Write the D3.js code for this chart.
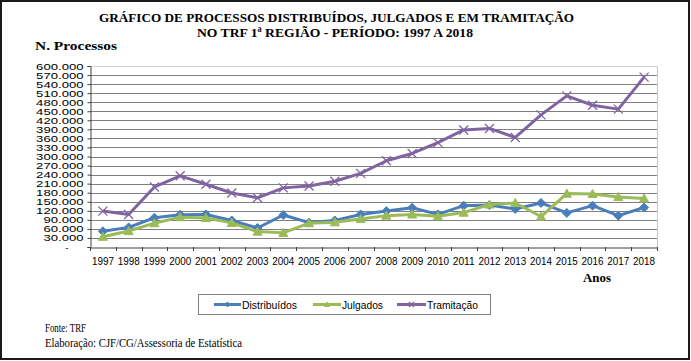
<!DOCTYPE html>
<html>
<head>
<meta charset="utf-8">
<script src="https://cdn.jsdelivr.net/npm/d3@7"></script>
<style>
  html, body { margin: 0; padding: 0; background: #fff; }
  svg { display: block; }
</style>
</head>
<body>
<svg id="chart" width="691" height="361"></svg>
<script>
// ---------------- DATA ----------------
const years = ["1997","1998","1999","2000","2001","2002","2003","2004","2005","2006","2007",
               "2008","2009","2010","2011","2012","2013","2014","2015","2016","2017","2018"];
const distribuidos = [52000,65000,97000,107000,108000,88000,63000,106000,81000,88000,108000,
                      119000,130000,108000,137000,139000,126000,146000,113000,137000,104000,131000];
const julgados = [34000,53000,79000,99000,96000,80000,51000,47000,79000,82000,93000,
                  104000,108000,102000,114000,141000,146000,101000,177000,176000,166000,161000];
const tramitacao = [119000,108000,199000,236000,208000,179000,163000,196000,202000,218000,244000,
                    286000,310000,346000,388000,393000,363000,438000,501000,470000,457000,563000];
const yTicks = [0,30000,60000,90000,120000,150000,180000,210000,240000,270000,300000,330000,
                360000,390000,420000,450000,480000,510000,540000,570000,600000];
const seriesNames = ["Distribuídos","Julgados","Tramitação"];
const titleLines = ["GRÁFICO DE PROCESSOS DISTRIBUÍDOS, JULGADOS E EM TRAMITAÇÃO",
                    "NO TRF 1ª REGIÃO - PERÍODO: 1997 A 2018"];
const yAxisTitle = "N. Processos";
const xAxisTitle = "Anos";
const footer = ["Fonte: TRF", "Elaboração: CJF/CG/Assessoria de Estatística"];

// ---------------- SETUP ----------------
const svg = d3.select("#chart");
const colors = ["#4A7EBB", "#9BBB59", "#8064A2"];
const seriesData = [distribuidos, julgados, tramitacao];

const plot = { left: 90, right: 657, top: 66, bottom: 247 };
const x = d3.scaleBand().domain(years).range([plot.left, plot.right]).padding(0);
const y = d3.scaleLinear().domain([0, 600000]).range([plot.bottom, plot.top]);
const cx = d => x(d) + x.bandwidth() / 2;

// outer frame
svg.append("rect").attr("x", 1).attr("y", 1).attr("width", 688).attr("height", 358)
  .attr("fill", "#fff").attr("stroke", "#1a1a1a").attr("stroke-width", 2);

// title
const serif = "'Liberation Serif', 'Times New Roman', serif";
const sans = "'Liberation Sans', Arial, sans-serif";
svg.append("text").attr("x", 99).attr("y", 22).text(titleLines[0])
  .attr("font-family", serif).attr("font-weight", "bold").attr("font-size", 13.5)
  .attr("textLength", 475).attr("lengthAdjust", "spacingAndGlyphs");
svg.append("text").attr("x", 197).attr("y", 37).text(titleLines[1])
  .attr("font-family", serif).attr("font-weight", "bold").attr("font-size", 13.5)
  .attr("textLength", 276).attr("lengthAdjust", "spacingAndGlyphs");
svg.append("text").attr("x", 35).attr("y", 50).text(yAxisTitle)
  .attr("font-family", serif).attr("font-weight", "bold").attr("font-size", 13)
  .attr("textLength", 82).attr("lengthAdjust", "spacingAndGlyphs");

// gridlines
svg.append("g").selectAll("line").data(yTicks.filter(v => v > 0)).join("line")
  .attr("x1", plot.left).attr("x2", plot.right)
  .attr("y1", d => Math.round(y(d)) + 0.5).attr("y2", d => Math.round(y(d)) + 0.5)
  .attr("stroke", d => d === 600000 ? "#d0d0d0" : "#7f7f7f").attr("stroke-width", 1);
// right border
svg.append("line").attr("x1", plot.right + 0.5).attr("x2", plot.right + 0.5)
  .attr("y1", plot.top).attr("y2", plot.bottom).attr("stroke", "#c8c8c8");

// y axis
const fmt = v => v === 0 ? "-" : d3.format(",")(v).replace(/,/g, ".");
const yAxis = svg.append("g").attr("transform", `translate(${plot.left + 0.5},0)`)
  .call(d3.axisLeft(y).tickValues(yTicks).tickFormat(fmt).tickSize(3).tickPadding(4));
yAxis.select(".domain").attr("stroke", "#404040");
yAxis.selectAll(".tick line").attr("stroke", "#404040");
yAxis.selectAll(".tick text").attr("font-family", sans).attr("font-size", 9.5).attr("fill", "#000")
  .each(function(d) {
    const t = d3.select(this);
    if (d === 0) { t.attr("dx", -15); return; }
    const w = this.getComputedTextLength();
    t.attr("textLength", w * 1.38).attr("lengthAdjust", "spacingAndGlyphs");
  });

// x axis
const xAxis = svg.append("g").attr("transform", `translate(0,${plot.bottom + 0.5})`)
  .call(d3.axisBottom(x).tickSize(0).tickPadding(10));
xAxis.select(".domain").attr("stroke", "#404040");
xAxis.selectAll(".tick text").attr("font-family", sans).attr("font-size", 10.5).attr("fill", "#000")
  .attr("textLength", 22).attr("lengthAdjust", "spacingAndGlyphs");
// boundary tick marks
const bounds = years.map(d => x(d)).concat([plot.right]);
svg.append("g").selectAll("line").data(bounds).join("line")
  .attr("x1", d => Math.round(d) + 0.5).attr("x2", d => Math.round(d) + 0.5)
  .attr("y1", plot.bottom).attr("y2", plot.bottom + 4).attr("stroke", "#404040");

svg.append("text").attr("x", 583).attr("y", 282).text(xAxisTitle)
  .attr("font-family", serif).attr("font-weight", "bold").attr("font-size", 12.5)
  .attr("textLength", 28).attr("lengthAdjust", "spacingAndGlyphs");

// markers
function drawMarker(g, i, px, py, s) {
  if (i === 0) {
    g.append("path").attr("d", `M${px},${py - s}L${px + s},${py}L${px},${py + s}L${px - s},${py}Z`)
      .attr("fill", colors[0]).attr("stroke", colors[0]);
  } else if (i === 1) {
    g.append("path").attr("d", `M${px},${py - s}L${px + s},${py + s * 0.8}L${px - s},${py + s * 0.8}Z`)
      .attr("fill", colors[1]).attr("stroke", colors[1]);
  } else {
    g.append("path").attr("d", `M${px - s},${py - s}L${px + s},${py + s}M${px - s},${py + s}L${px + s},${py - s}`)
      .attr("fill", "none").attr("stroke", colors[2]).attr("stroke-width", 1.3);
  }
}

const line = d3.line().x((d, i) => cx(years[i])).y(d => y(d));
seriesData.forEach((vals, i) => {
  const g = svg.append("g");
  g.append("path").datum(vals).attr("d", line)
    .attr("fill", "none").attr("stroke", colors[i]).attr("stroke-width", 3)
    .attr("stroke-linejoin", "round");
  vals.forEach((v, j) => drawMarker(g, i, cx(years[j]), y(v), 4.5));
});

// legend
svg.append("rect").attr("x", 198.5).attr("y", 294.5).attr("width", 292).attr("height", 20)
  .attr("fill", "#fff").attr("stroke", "#808080");
const legItems = [
  { x1: 214, x2: 241, tx: 242, w: 55 },
  { x1: 313, x2: 341, tx: 342, w: 41 },
  { x1: 397, x2: 426, tx: 427, w: 51 }
];
legItems.forEach((it, i) => {
  const g = svg.append("g");
  g.append("line").attr("x1", it.x1).attr("x2", it.x2).attr("y1", 304.5).attr("y2", 304.5)
    .attr("stroke", colors[i]).attr("stroke-width", 3);
  drawMarker(g, i, (it.x1 + it.x2) / 2, 304.5, 2.5);
  g.append("text").attr("x", it.tx).attr("y", 308.5).text(seriesNames[i])
    .attr("font-family", sans).attr("font-size", 11).attr("fill", "#000")
    .attr("textLength", it.w).attr("lengthAdjust", "spacingAndGlyphs");
});

// footer
svg.append("text").attr("x", 45).attr("y", 332).text(footer[0])
  .attr("font-family", serif).attr("font-size", 11.5)
  .attr("textLength", 41).attr("lengthAdjust", "spacingAndGlyphs");
svg.append("text").attr("x", 45).attr("y", 347).text(footer[1])
  .attr("font-family", serif).attr("font-size", 11.5)
  .attr("textLength", 197).attr("lengthAdjust", "spacingAndGlyphs");
</script>
</body>
</html>
